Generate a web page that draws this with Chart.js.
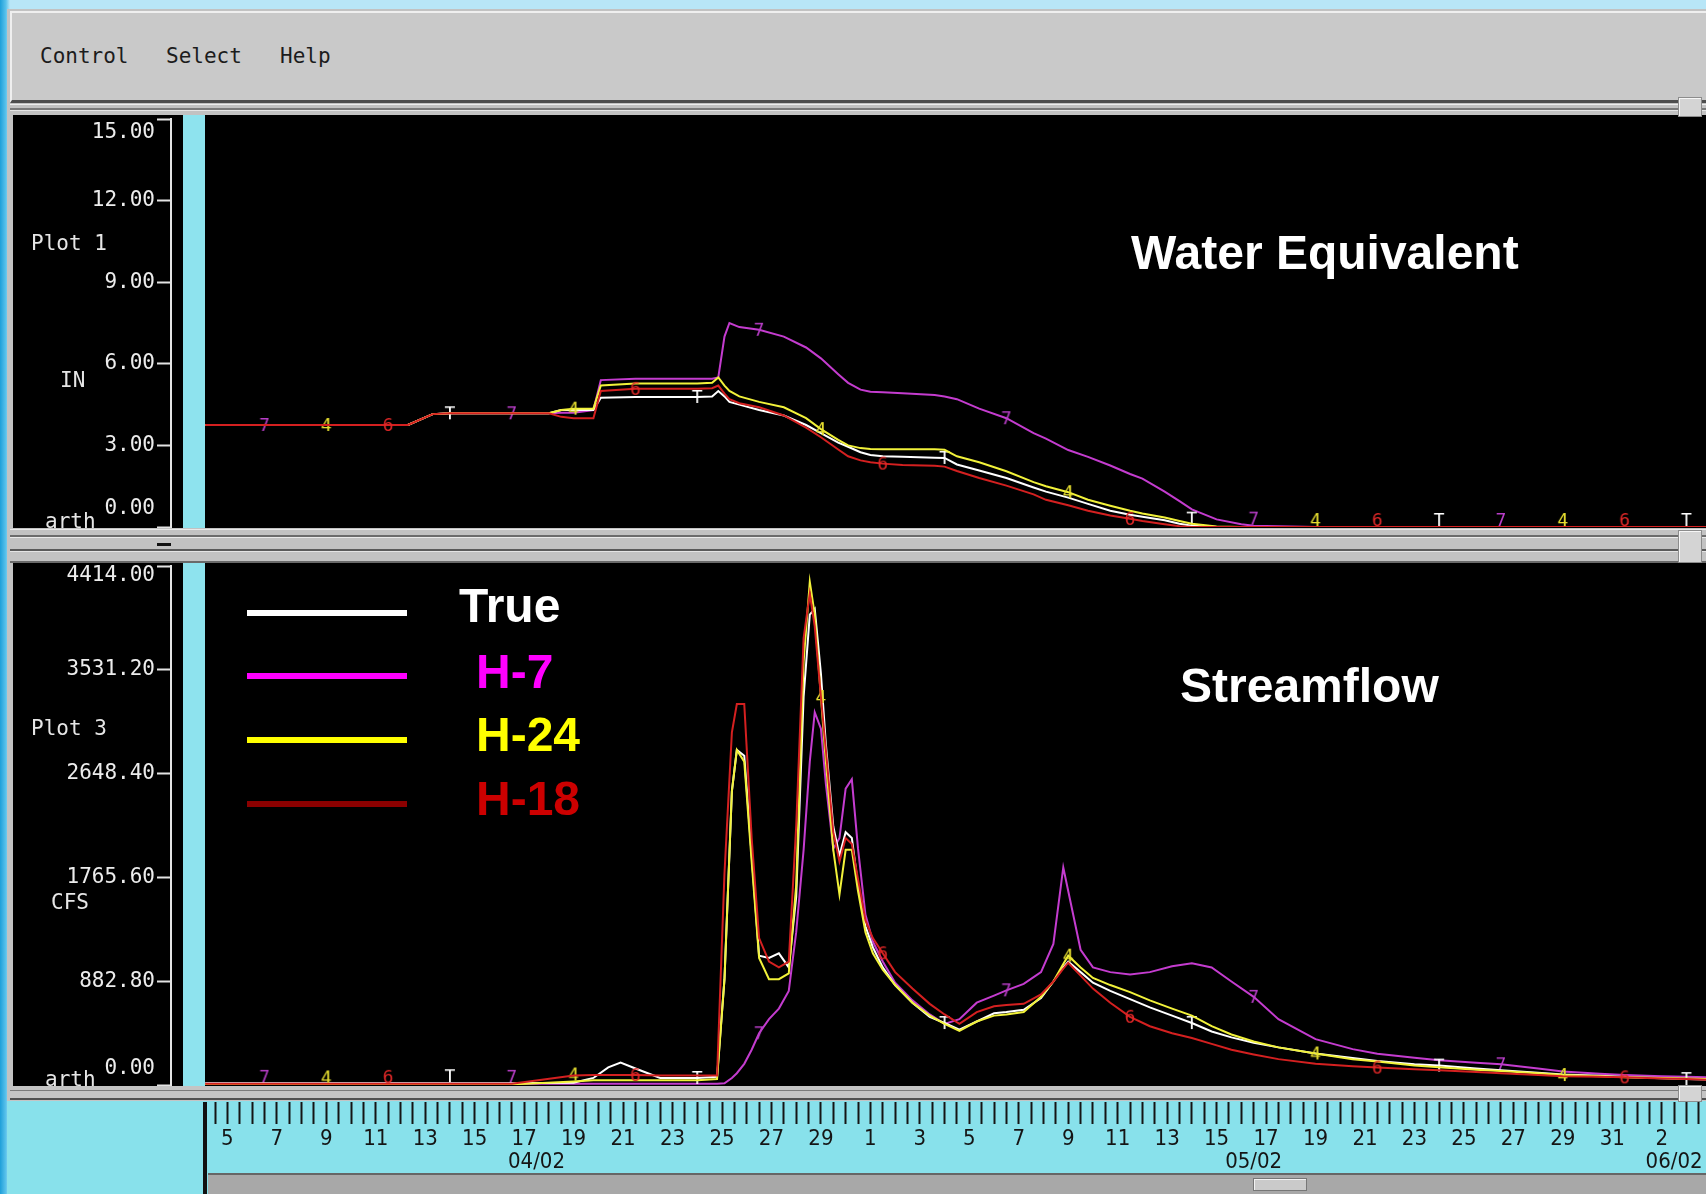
<!DOCTYPE html>
<html lang="en">
<head>
<meta charset="UTF-8">
<title>Water Equivalent / Streamflow</title>
<script src="https://cdn.jsdelivr.net/npm/chart.js"></script>
<style>
  html, body { margin: 0; padding: 0; }
  body {
    width: 1706px; height: 1194px; position: relative; overflow: hidden;
    background: linear-gradient(to right, #1e9fd9 0px, #5cc3ec 6px, #b8e6f7 10px);
  }
  div, canvas { position: absolute; }
  .mono { font-family: 'DejaVu Sans Mono', monospace; font-size: 21px; line-height: 21px; white-space: pre; }
  .big { font-family: 'Liberation Sans', Arial, sans-serif; font-weight: bold; font-size: 48px; line-height: 48px; white-space: pre; }
  .side { color: #e6e6e6; }
  .menu { color: #1c1c1c; top: 46px; }
  .panel { background: #000; overflow: hidden; }
  .knob { left: 1678px; width: 22px; background: #d4d4d4; border: 1px solid #8c8c8c; box-shadow: inset 1px 1px 0 #f6f6f6; }
  .lg { left: 234px; width: 160px; height: 6px; }
  .hl { left: 10px; width: 1696px; }
</style>
</head>
<body>
  <!-- window chrome -->
  <div style="left:7px;top:9px;width:1699px;height:1092px;background:#c2c2c2;"></div>
  <div style="left:10px;top:11px;width:1696px;height:87px;background:#c9c9c9;border-top:2px solid #efefef;border-left:2px solid #efefef;border-bottom:3px solid #4e4e4e;"></div>
  <div class="mono menu" style="left:40px;">Control</div>
  <div class="mono menu" style="left:166px;">Select</div>
  <div class="mono menu" style="left:280px;">Help</div>
  <div class="hl" style="top:104px;height:1px;background:#eeeeee;"></div>
  <div class="hl" style="top:108px;height:2px;background:#7a7a7a;"></div>
  <div class="hl" style="top:110px;height:1px;background:#e6e6e6;"></div>

  <!-- Plot 1 -->
  <div class="panel" style="left:13px;top:115px;width:1693px;height:413px;">
    <canvas id="weChart" width="1693" height="413" style="left:0;top:0;"></canvas>
    <div class="mono side" style="left:18px;top:118px;">Plot 1</div>
    <div class="mono side" style="left:47px;top:255px;">IN</div>
    <div class="mono side" style="left:32px;top:396px;">arth</div>
    <div class="big" style="left:1118px;top:114px;color:#ffffff;">Water Equivalent</div>
  </div>

  <div class="hl" style="top:529px;height:1px;background:#e9e9e9;"></div>
  <div class="hl" style="top:535px;height:2px;background:#6c6c6c;"></div>
  <div class="hl" style="top:537px;height:1px;background:#eaeaea;"></div>
  <div class="hl" style="top:549px;height:2px;background:#5a5a5a;"></div>
  <div class="hl" style="top:551px;height:1px;background:#e4e4e4;"></div>
  <div class="hl" style="top:561px;height:2px;background:#6a6a6a;"></div>
  <div style="left:157px;top:543px;width:14px;height:3px;background:#111;"></div>

  <!-- Plot 3 -->
  <div class="panel" style="left:13px;top:563px;width:1693px;height:523px;">
    <canvas id="sfChart" width="1693" height="523" style="left:0;top:0;"></canvas>
    <div class="mono side" style="left:18px;top:155px;">Plot 3</div>
    <div class="mono side" style="left:38px;top:329px;">CFS</div>
    <div class="mono side" style="left:32px;top:506px;">arth</div>
    <div class="big" style="left:1167px;top:99px;color:#ffffff;">Streamflow</div>
    <div class="lg" style="top:47px;background:#ffffff;"></div>
    <div class="lg" style="top:110px;background:#ff00ff;"></div>
    <div class="lg" style="top:174px;background:#ffff00;"></div>
    <div class="lg" style="top:238px;background:#8b0000;"></div>
    <div class="big" style="left:446px;top:19px;color:#ffffff;">True</div>
    <div class="big" style="left:463px;top:85px;color:#ff00ff;">H-7</div>
    <div class="big" style="left:463px;top:148px;color:#ffff00;">H-24</div>
    <div class="big" style="left:463px;top:212px;color:#cc0000;">H-18</div>
  </div>

  <div class="hl" style="top:1087px;height:1px;background:#e8e8e8;"></div>
  <div class="hl" style="top:1086px;height:15px;background:#c4c4c4;"></div>
  <div class="hl" style="top:1090px;height:1px;background:#7a7a7a;"></div>
  <div class="hl" style="top:1098px;height:2px;background:#505050;"></div>

  <!-- time ruler -->
  <div style="left:7px;top:1101px;width:1699px;height:93px;background:#88e1eb;"></div>
  <canvas id="ruler" width="1501" height="72" style="left:205px;top:1101px;"></canvas>
  <div style="left:208px;top:1173px;width:1498px;height:21px;background:#a8a8a8;border-top:2px solid #666;"></div>
  <div style="left:1253px;top:1178px;width:52px;height:11px;background:#cacaca;border:1px solid #777;box-shadow:inset 1px 1px 0 #f2f2f2;"></div>
  <div style="left:203px;top:1102px;width:4px;height:92px;background:#111;"></div>

  <div class="knob" style="top:97px;height:18px;"></div>
  <div class="knob" style="top:530px;height:31px;"></div>
  <div class="knob" style="top:1085px;height:15px;"></div>
</body>
<script>
// time axis: days counted from 31 March (April 5 = 5, May 1 = 31, June 2 = 63)

// Plot 1 - snow water equivalent, inches
const weDays = [4.1, 6.5, 9, 11.5, 12.3, 13.3, 14, 16.5, 18, 18.5, 19, 19.8, 20.1, 21.5, 24, 24.6, 24.85,
  25.1, 25.3, 25.7, 26.5, 27.5, 28.4, 29, 29.7, 30.1, 30.6, 31, 31.5, 32.3, 33.6, 34, 34.5, 35.4, 36.5,
  37.6, 38.1, 39, 39.8, 40.7, 41.5, 42, 42.9, 43.5, 44, 45, 46, 46.5, 49, 51.5, 54, 56.5, 59, 61.5, 64, 64.8];
const weTrue = [3.75, 3.75, 3.75, 3.75, 3.75, 4.15, 4.18, 4.18, 4.18, 4.3, 4.3, 4.3, 4.75, 4.78, 4.78, 4.8, 5.0,
  4.8, 4.6, 4.5, 4.3, 4.1, 3.75, 3.45, 3.1, 2.95, 2.75, 2.65, 2.6, 2.58, 2.55, 2.54, 2.3, 2.08, 1.8,
  1.45, 1.3, 1.08, 0.85, 0.6, 0.45, 0.38, 0.25, 0.12, 0.05, 0, 0, 0, 0, 0, 0, 0, 0, 0, 0, 0];
const weH7 = [3.75, 3.75, 3.75, 3.75, 3.75, 4.15, 4.18, 4.18, 4.18, 4.2, 4.2, 4.3, 5.4, 5.45, 5.45, 5.45, 5.5,
  7.0, 7.5, 7.35, 7.25, 7.0, 6.6, 6.2, 5.62, 5.3, 5.05, 4.97, 4.95, 4.92, 4.85, 4.8, 4.7, 4.35, 4.0,
  3.45, 3.25, 2.83, 2.58, 2.26, 1.95, 1.78, 1.3, 0.95, 0.65, 0.28, 0.1, 0.05, 0, 0, 0, 0, 0, 0, 0, 0];
const weH24 = [3.75, 3.75, 3.75, 3.75, 3.75, 4.15, 4.18, 4.18, 4.18, 4.3, 4.35, 4.35, 5.2, 5.28, 5.28, 5.3, 5.5,
  5.2, 5.0, 4.8, 4.6, 4.4, 4.0, 3.6, 3.2, 3.0, 2.9, 2.87, 2.86, 2.86, 2.86, 2.84, 2.6, 2.38, 2.05,
  1.65, 1.5, 1.28, 1.0, 0.78, 0.6, 0.5, 0.35, 0.22, 0.12, 0.02, 0, 0, 0, 0, 0, 0, 0, 0, 0, 0];
const weH18 = [3.75, 3.75, 3.75, 3.75, 3.75, 4.15, 4.18, 4.18, 4.18, 4.05, 4.0, 4.0, 5.0, 5.08, 5.08, 5.1, 5.2,
  4.9, 4.7, 4.55, 4.4, 4.1, 3.65, 3.3, 2.85, 2.6, 2.45, 2.38, 2.33, 2.28, 2.25, 2.22, 2.06, 1.8, 1.52,
  1.2, 1.0, 0.8, 0.6, 0.42, 0.3, 0.22, 0.1, 0.03, 0, 0, 0, 0, 0, 0, 0, 0, 0, 0, 0, 0];
const weTicks = [0, 3, 6, 9, 12, 15];

// Plot 3 - streamflow, CFS
const sfDays = [4.1, 6.5, 9, 11.5, 14, 16.5, 19,
  19.8, 20.4, 20.9, 21.5, 22.5, 24, 24.8,
  25.1, 25.4, 25.6, 25.9, 26.2, 26.5, 26.9, 27.3, 27.7,
  28.0, 28.3, 28.55, 28.75, 29, 29.2, 29.5, 29.75, 30.0, 30.25, 30.5, 30.8,
  31.1, 31.5, 32.0, 32.7, 33.4, 34, 34.6, 35.3, 36.0, 36.5, 37.2, 37.9, 38.4, 38.8, 39, 39.5, 40.0,
  40.7, 41.5, 42.3, 43.2, 44, 44.8, 45.6, 46.5, 47.5, 49, 50.5, 51.5, 53, 54, 55.5, 56.5, 58, 59, 60.5, 61.5, 63, 64, 64.8];
const sfTrue = [15, 15, 15, 15, 15, 15, 20,
  60, 150, 190, 140, 60, 60, 70,
  900, 2500, 2850, 2800, 1950, 1100, 1080, 1120, 1000,
  1600, 3300, 4000, 4050, 3500, 2900, 2200, 1950, 2150, 2100, 1700, 1350,
  1170, 1000, 850, 700, 580, 527, 470, 540, 610, 620, 640, 740, 880, 1000, 1050, 960, 870,
  800, 730, 660, 590, 527, 455, 405, 360, 320, 268, 230, 205, 176, 165, 140, 125, 105, 90, 78, 68, 58, 50, 46];
const sfH7 = [10, 10, 10, 10, 10, 10, 10,
  10, 10, 10, 10, 10, 10, 10,
  15, 60, 100, 180, 300, 440, 560, 650, 800,
  1300, 2000, 2750, 3170, 3030, 2560, 2010, 2100, 2520, 2600, 2010, 1450,
  1220, 1050, 870, 720, 600, 520, 560, 700, 760, 805, 860, 960, 1200, 1850, 1650, 1150, 1000,
  960, 940, 960, 1010, 1035, 1000, 880, 750, 560, 390, 305, 265, 231, 210, 190, 176, 140, 115, 95, 85, 75, 70, 65];
const sfH24 = [5, 5, 5, 5, 5, 5, 30,
  40, 40, 40, 40, 40, 40, 50,
  900, 2500, 2850, 2750, 1900, 1080, 900, 900, 950,
  1700, 3600, 4280, 4000, 3300, 2750, 2000, 1620, 2000, 2000, 1650, 1300,
  1120, 980, 850, 700, 590, 520, 460, 540, 590, 600, 620, 750, 880, 1030, 1100, 1000, 910,
  850, 790, 720, 650, 590, 500, 430, 370, 320, 268, 220, 200, 165, 150, 130, 120, 100, 85, 75, 65, 60, 55, 50];
const sfH18 = [10, 10, 10, 10, 10, 10, 80,
  85, 85, 85, 85, 80, 80, 80,
  1800, 3000, 3240, 3240, 2100, 1250, 1050, 1000, 1050,
  2200, 3800, 4180, 3900, 3300, 2850, 2150, 1900, 2100, 2050, 1750, 1400,
  1250, 1120, 960, 820, 690, 600, 520, 620, 670, 680, 690, 770, 880, 990, 1040, 930, 820,
  700, 580, 500, 440, 400, 350, 300, 260, 220, 180, 160, 148, 135, 125, 110, 100, 85, 75, 70, 65, 55, 50, 45];
const sfTicks = [0, 882.8, 1765.6, 2648.4, 3531.2, 4414];

// where each run writes its id character on the curve
const trueMarks = [14, 24, 34, 44, 54, 64];
const h7Marks = [6.5, 16.5, 26.5, 36.5, 46.5, 56.5];
const h24Marks = [9, 19, 29, 39, 49, 59];
const h18Marks = [11.5, 21.5, 31.5, 41.5, 51.5, 61.5];

// bottom time ruler
const dayTickAt = [5, 7, 9, 11, 13, 15, 17, 19, 21, 23, 25, 27, 29, 31, 33, 35, 37, 39, 41, 43, 45, 47, 49, 51, 53, 55, 57, 59, 61, 63];
const dayTickText = ['5', '7', '9', '11', '13', '15', '17', '19', '21', '23', '25', '27', '29', '1', '3', '5', '7', '9', '11', '13', '15', '17', '19', '21', '23', '25', '27', '29', '31', '2'];
const monthAt = [17.5, 46.5, 63.5];
const monthText = ['04/02', '05/02', '06/02'];

const X_MIN = 2.719, X_MAX = 64.79;   // plot window, left end sits under the axis line
const MONO = "'DejaVu Sans Mono', monospace";

function glyph(ch, color, lift) {
  const c = document.createElement('canvas');
  c.width = 14; c.height = 20 + 2 * lift;
  const g = c.getContext('2d');
  g.font = '18px ' + MONO;
  g.fillStyle = color; g.textAlign = 'center'; g.textBaseline = 'middle';
  g.fillText(ch, 7, c.height / 2 - lift + 1);
  return c;
}

function series(label, days, vals, color, marks, ch, chColor, low) {
  const plain = glyph(ch, chColor, 0), lifted = glyph(ch, chColor, 7);
  return {
    label: label,
    data: days.map((d, i) => ({ x: d, y: vals[i] })),
    borderColor: color, borderWidth: 2, tension: 0, fill: false,
    pointRadius: c => (c.dataIndex !== undefined && marks.includes(days[c.dataIndex])) ? 6 : 0,
    pointStyle: c => (c.dataIndex !== undefined && vals[c.dataIndex] <= low) ? lifted : plain,
    pointHoverRadius: 0, pointHitRadius: 0
  };
}

// cyan strip between the value axis and the data
const stripPlugin = {
  id: 'strip',
  beforeDatasetsDraw(chart) {
    const { ctx, chartArea } = chart;
    ctx.save();
    ctx.fillStyle = '#8ee3ee';
    ctx.fillRect(chartArea.left + 12, 0, 22, chart.height);
    ctx.restore();
  }
};

function plotOptions(ticks, yMax, pad, topLh, botLh) {
  return {
    animation: false, responsive: false, events: [],
    layout: { padding: { top: pad[0], bottom: pad[1], left: 0, right: 0 }, autoPadding: false },
    plugins: { legend: { display: false }, tooltip: { enabled: false } },
    scales: {
      x: { type: 'linear', display: false, min: X_MIN, max: X_MAX },
      y: {
        type: 'linear', position: 'left', min: 0, max: yMax,
        afterFit: s => { s.width = 158; s.paddingTop = 0; s.paddingBottom = 0; },
        afterBuildTicks: s => { s.ticks = ticks.map(v => ({ value: v })); },
        grid: { display: true, drawOnChartArea: false, drawTicks: true, tickLength: 14, tickColor: '#e4e4e4', tickWidth: 2 },
        border: { display: true, color: '#e4e4e4', width: 2 },
        ticks: {
          autoSkip: false, color: '#ececec', padding: 2,
          font: c => {
            let lh = '24px';
            if (c.tick && c.tick.value === yMax) lh = topLh;
            if (c.tick && c.tick.value === 0) lh = botLh;
            return { family: MONO, size: 21, lineHeight: lh };
          },
          callback: v => {
            const s = Number(v).toFixed(2);
            if (v === yMax) return ['', s];
            if (v === 0) return [s, ''];
            return s;
          }
        }
      }
    }
  };
}

new Chart(document.getElementById('weChart'), {
  type: 'line',
  data: {
    datasets: [
      series('H-18', weDays, weH18, '#d42020', h18Marks, '6', '#e02828', 0.1),
      series('H-24', weDays, weH24, '#f2f23a', h24Marks, '4', '#e8e030', 0.1),
      series('True', weDays, weTrue, '#ffffff', trueMarks, 'T', '#ffffff', 0.1),
      series('H-7', weDays, weH7, '#c43ccf', h7Marks, '7', '#b93ec8', 0.1)
    ]
  },
  options: plotOptions(weTicks, 15, [4, 1], '28px', '36px'),
  plugins: [stripPlugin]
});

new Chart(document.getElementById('sfChart'), {
  type: 'line',
  data: {
    datasets: [
      series('H-18', sfDays, sfH18, '#d42020', h18Marks, '6', '#e02828', 40),
      series('H-24', sfDays, sfH24, '#f2f23a', h24Marks, '4', '#e8e030', 40),
      series('True', sfDays, sfTrue, '#ffffff', trueMarks, 'T', '#ffffff', 40),
      series('H-7', sfDays, sfH7, '#c43ccf', h7Marks, '7', '#b93ec8', 40)
    ]
  },
  options: plotOptions(sfTicks, 4414, [3, 1], '19px', '33px'),
  plugins: [stripPlugin]
});

// half-day tick marks along the ruler
const rulerTicks = [];
for (let h = 9; h <= 129; h++) rulerTicks.push(h / 2);

new Chart(document.getElementById('ruler'), {
  type: 'line',
  data: { datasets: [] },
  options: {
    animation: false, responsive: false, events: [],
    layout: { padding: 0, autoPadding: false },
    plugins: { legend: { display: false }, tooltip: { enabled: false } },
    scales: {
      x: {
        type: 'linear', position: 'bottom', min: 4.094, max: X_MAX,
        afterFit: s => { s.height = 71; s.paddingLeft = 0; s.paddingRight = 0; },
        afterBuildTicks: s => { s.ticks = rulerTicks.map(v => ({ value: v })); },
        border: { display: false },
        grid: { display: true, drawOnChartArea: false, drawTicks: true, tickLength: 22, tickColor: '#151515', tickWidth: 2 },
        ticks: {
          autoSkip: false, maxRotation: 0, minRotation: 0, padding: 3.5, color: '#151515',
          font: { family: "'Liberation Sans Narrow', 'DejaVu Sans Condensed', sans-serif", size: 22, lineHeight: '23px' },
          callback: v => {
            const m = monthAt.indexOf(v);
            if (m >= 0) return ['', monthText[m]];
            const d = dayTickAt.indexOf(v);
            return d >= 0 ? dayTickText[d] : '';
          }
        }
      },
      y: { display: false }
    }
  }
});
</script>
</html>
